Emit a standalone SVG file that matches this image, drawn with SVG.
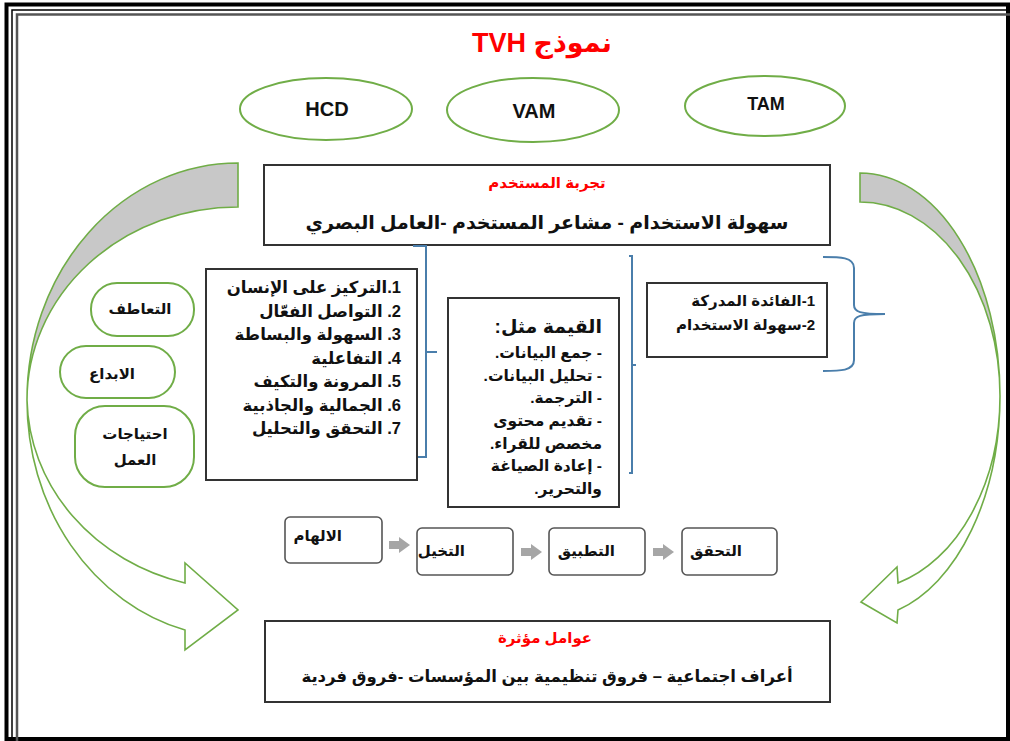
<svg xmlns="http://www.w3.org/2000/svg" width="1010" height="741" viewBox="0 0 1010 741">
<defs>
<style>
text{font-family:"Liberation Sans","DejaVu Sans",sans-serif;font-weight:bold;fill:#111}
.rtl{direction:rtl}
.red{fill:#ff0000}
.box{fill:#fff;stroke:#333;stroke-width:2}
.pbox{fill:#fff;stroke:#555;stroke-width:1.6}
.ell{fill:#fff;stroke:#70ad47;stroke-width:2}
.pill{fill:#fff;stroke:#70ad47;stroke-width:2}
.brace{fill:none;stroke:#4a7eab;stroke-width:2}
.band{stroke:#70ad47;stroke-width:1.6}
.parr{fill:#a6a6a6}
</style>
</defs>
<rect width="1010" height="741" fill="#fff"/>
<g id="frame" fill="none">
<path d="M6.5,741 V4.5 H1008 V739 H6.5" stroke="#000" stroke-width="4"/>
<path d="M12,741 V10 H1010" stroke="#000" stroke-width="1.5"/>
<path d="M17,741 V14.5 H1010" stroke="#555" stroke-width="2.5"/>
</g>
<text id="title" class="red rtl" x="542" y="52" font-size="27" text-anchor="middle">نموذج TVH</text>
<g id="hcd"><ellipse class="ell" cx="326" cy="109" rx="86" ry="31"/><text x="327" y="116" font-size="20" text-anchor="middle">HCD</text></g>
<g id="vam"><ellipse class="ell" cx="533" cy="110" rx="86" ry="32"/><text x="534" y="118" font-size="20" text-anchor="middle">VAM</text></g>
<g id="tam"><ellipse class="ell" cx="765" cy="106" rx="80" ry="30"/><text x="766" y="110" font-size="18" text-anchor="middle">TAM</text></g>
<g id="left-arrow">
<path class="band" fill="#c8c8c8" d="M238,163 A211,237 0 0 0 27,400 A211,193 0 0 1 238,207 Z"/>
<path class="band" fill="#fff" d="M185,583 L185,563 L238,610 L185,650 L185,630 A211,237 0 0 1 27,400 A211,193 0 0 0 185,583 Z"/>
</g>
<g id="right-arrow">
<path class="band" fill="#c8c8c8" d="M860,173 A140,223 0 0 1 1000,396 A140,194 0 0 0 860,202 Z"/>
<path class="band" fill="#fff" d="M898,583 L897,567 L861,602 L897,623 L898,610 A140,223 0 0 0 1000,396 A140,194 0 0 1 898,583 Z"/>
</g>
<g id="user-experience">
<rect class="box" x="264" y="165" width="566" height="80"/>
<text class="red rtl" x="547" y="188" font-size="15" text-anchor="middle">تجربة المستخدم</text>
<text class="rtl" x="547" y="229" font-size="19" text-anchor="middle">سهولة الاستخدام - مشاعر المستخدم -العامل البصري</text>
</g>
<g id="connectors">
<path class="brace" d="M413,246 H426 V457 H418 M426,352 H437"/>
<path class="brace" d="M629,256 H632 V473 H629 M632,365 H636" stroke-width="1.6"/>
<path class="brace" d="M823,257 C840,257 854,257 854,268 V305 C854,312 860,314 885,314 C860,314 854,316 854,323 V360 C854,371 840,371 823,371"/>
<path class="parr" d="M389,541 H399 V537 L410,545 L399,553 V549 H389 Z"/>
<path class="parr" d="M521,548 H531 V544 L542,552 L531,560 V556 H521 Z"/>
<path class="parr" d="M653,548 H663 V544 L674,552 L663,560 V556 H653 Z"/>
</g>
<g id="design-principles">
<rect class="box" x="206" y="269" width="211" height="211"/>
<g class="rtl" font-size="16.5">
<text x="401" y="293">1.التركيز على الإنسان</text>
<text x="401" y="317">2. التواصل الفعّال</text>
<text x="401" y="340">3. السهولة والبساطة</text>
<text x="401" y="364">4. التفاعلية</text>
<text x="401" y="387">5. المرونة والتكيف</text>
<text x="401" y="411">6. الجمالية والجاذبية</text>
<text x="401" y="434">7. التحقق والتحليل</text>
</g>
</g>
<g id="empathy"><rect class="pill" x="91" y="283" width="103" height="53" rx="26"/><text class="rtl" x="140" y="314" font-size="15" text-anchor="middle">التعاطف</text></g>
<g id="creativity"><rect class="pill" x="60" y="346" width="115" height="52" rx="26"/><text class="rtl" x="112" y="379" font-size="15" text-anchor="middle">الابداع</text></g>
<g id="work-needs"><rect class="pill" x="75" y="406" width="119" height="81" rx="30"/><text class="rtl" x="135" y="439" font-size="15" text-anchor="middle">احتياجات</text><text class="rtl" x="135" y="465" font-size="15" text-anchor="middle">العمل</text></g>
<g id="value">
<rect class="box" x="448" y="298" width="171" height="209"/>
<g class="rtl">
<text x="602" y="333" font-size="19">القيمة مثل:</text>
<text x="602" y="358" font-size="15.5">- جمع البيانات.</text>
<text x="602" y="381" font-size="15.5">- تحليل البيانات.</text>
<text x="602" y="403" font-size="15.5">- الترجمة.</text>
<text x="602" y="426" font-size="15.5">- تقديم محتوى</text>
<text x="602" y="449" font-size="15.5">مخصص للقراء.</text>
<text x="602" y="471" font-size="15.5">- إعادة الصياغة</text>
<text x="602" y="494" font-size="15.5">والتحرير.</text>
</g>
</g>
<g id="tam-factors">
<rect class="box" x="647" y="283" width="180" height="74"/>
<g class="rtl" font-size="15">
<text x="815" y="306">1-الفائدة المدركة</text>
<text x="815" y="330">2-سهولة الاستخدام</text>
</g>
</g>
<g id="inspiration"><rect class="pbox" x="285" y="517" width="97" height="46" rx="5"/><text class="rtl" x="342" y="541" font-size="15">الالهام</text></g>
<g id="imagination"><rect class="pbox" x="417" y="528" width="96" height="47" rx="5"/><text class="rtl" x="465" y="556" font-size="15">التخيل</text></g>
<g id="application"><rect class="pbox" x="549" y="528" width="96" height="47" rx="5"/><text class="rtl" x="615" y="556" font-size="15">التطبيق</text></g>
<g id="verification"><rect class="pbox" x="682" y="528" width="95" height="47" rx="5"/><text class="rtl" x="742" y="556" font-size="15">التحقق</text></g>
<g id="influencing-factors">
<rect class="box" x="265" y="621" width="565" height="81"/>
<text class="red rtl" x="545" y="643" font-size="15" text-anchor="middle">عوامل مؤثرة</text>
<text class="rtl" x="547" y="682" font-size="16.5" text-anchor="middle">أعراف اجتماعية – فروق تنظيمية بين المؤسسات -فروق فردية</text>
</g>
</svg>
